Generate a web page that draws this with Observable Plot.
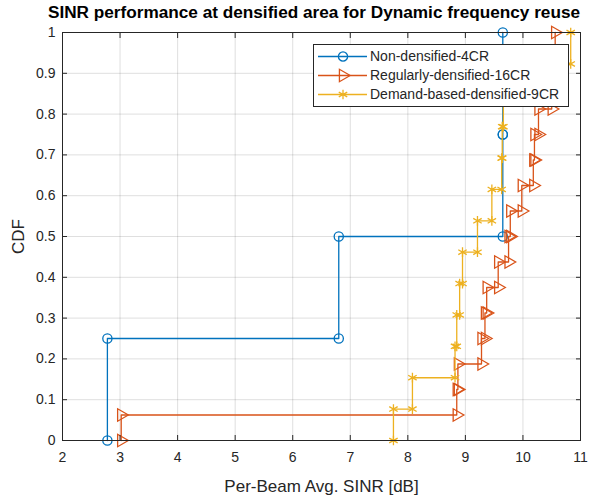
<!DOCTYPE html>
<html>
<head>
<meta charset="utf-8">
<script src="https://cdn.jsdelivr.net/npm/d3@7"></script>
<script src="https://cdn.jsdelivr.net/npm/@observablehq/plot@0.6"></script>
<style>
  html, body { margin: 0; padding: 0; background: #fff; }
  #wrap { position: relative; width: 596px; height: 496px; overflow: hidden; font-family: "Liberation Sans", Arial, sans-serif; color: #262626; }
  #title { position: absolute; left: 32px; top: 1px; width: 564px; height: 22px; line-height: 22px; text-align: center; font-weight: bold; font-size: 17.2px; color: #000; white-space: nowrap; }
  #chart { position: absolute; left: 0; top: 22px; }
  #legend { position: absolute; left: 313px; top: 44px; }
  #chart g[aria-label="x-axis label"] text, #chart g[aria-label="y-axis label"] text { font-size: 17px; }
  #chart g[aria-label="x-axis label"], #chart g[aria-label="y-axis label"] { font-size: 17px; }
</style>
</head>
<body>
<div id="wrap">
  <div id="title">SINR performance at densified area for Dynamic frequency reuse</div>
  <div id="chart"></div>
  <div id="legend"></div>
</div>
<script>
// ---- data (sorted per-beam SINR samples, dB) ----
const seriesNames = ["Non-densified-4CR", "Regularly-densified-16CR", "Demand-based-densified-9CR"];
const seriesColors = ["#0072BD", "#D95319", "#EDB120"];
const nonDensified = [2.78, 6.80, 9.65, 9.65];
const regularlyDensified = [3.02, 8.85, 8.87, 9.28, 9.34, 9.37, 9.57, 9.75, 9.78, 9.98, 10.18, 10.20, 10.27, 10.50, 10.53, 10.56];
const demandBased = [7.75, 8.08, 8.82, 8.85, 8.90, 8.95, 9.21, 9.46, 9.63, 9.64, 9.66, 9.68, 10.83];
const xTicks = [2, 3, 4, 5, 6, 7, 8, 9, 10, 11];
const yTicks = [0, 0.1, 0.2, 0.3, 0.4, 0.5, 0.6, 0.7, 0.8, 0.9, 1];
const xLabel = "Per-Beam Avg. SINR [dB]";
const yLabel = "CDF";

// empirical CDF stair vertices
function stairs(values, name) {
  const n = values.length, out = [];
  values.forEach((v, i) => {
    out.push({x: v, y: i / n, s: name});
    out.push({x: v, y: (i + 1) / n, s: name});
  });
  return out;
}
const dBlue = stairs(nonDensified, seriesNames[0]);
const dOrange = stairs(regularlyDensified, seriesNames[1]);
const dYellow = stairs(demandBased, seriesNames[2]);

const axisColor = "#262626";
const lw = 1.3;
const symbols = ["circle", "triangle", "asterisk"];
const rotations = [0, 90, 0];
const radii = [4.6, 4.6, 4.6];

function seriesMarks(data, i) {
  return [
    Plot.line(data, {x: "x", y: "y", stroke: seriesColors[i], strokeWidth: lw}),
    Plot.dot(data, {x: "x", y: "y", symbol: symbols[i], r: radii[i], rotate: rotations[i],
      stroke: seriesColors[i], fill: "none", strokeWidth: lw})
  ];
}

const fmt = d3.format("~g");

const plot = Plot.plot({
  width: 596,
  height: 474,
  marginTop: 10,
  marginBottom: 56,
  marginLeft: 62,
  marginRight: 16,
  style: {fontFamily: "'Liberation Sans', Arial, sans-serif", fontSize: "14px", color: axisColor, background: "white", overflow: "visible"},
  x: {domain: [2, 11]},
  y: {domain: [0, 1]},
  marks: [
    Plot.gridX(xTicks, {stroke: axisColor, strokeOpacity: 0.15}),
    Plot.gridY(yTicks, {stroke: axisColor, strokeOpacity: 0.15}),
    ...seriesMarks(dBlue, 0),
    ...seriesMarks(dOrange, 1),
    ...seriesMarks(dYellow, 2),
    Plot.frame({stroke: axisColor, strokeWidth: 1}),
    Plot.axisX(xTicks, {anchor: "bottom", tickSize: -5, tickPadding: 17, tickFormat: fmt,
      label: xLabel, labelAnchor: "center", labelArrow: "none", labelOffset: 51, fontSize: 14}),
    Plot.axisX(xTicks, {anchor: "top", tickSize: -5, fill: "none", label: null}),
    Plot.axisY(yTicks, {anchor: "left", tickSize: -5, tickPadding: 12, tickFormat: fmt,
      label: yLabel, labelAnchor: "center", labelArrow: "none", labelOffset: 51, fontSize: 14}),
    Plot.axisY(yTicks, {anchor: "right", tickSize: -5, fill: "none", label: null})
  ]
});
document.getElementById("chart").appendChild(plot);

// ---- legend ----
const lg = d3.select("#legend").append("svg")
  .attr("width", 256).attr("height", 63)
  .style("display", "block")
  .style("font-family", "'Liberation Sans', Arial, sans-serif");
lg.append("rect").attr("x", 0.5).attr("y", 0.5).attr("width", 255).attr("height", 62)
  .attr("fill", "white").attr("stroke", axisColor).attr("stroke-width", 1);
const d3sym = [d3.symbolCircle, d3.symbolTriangle, d3.symbolAsterisk];
seriesNames.forEach((name, i) => {
  const cy = 12.5 + i * 19;
  const g = lg.append("g");
  g.append("line").attr("x1", 5).attr("x2", 54).attr("y1", cy).attr("y2", cy)
    .attr("stroke", seriesColors[i]).attr("stroke-width", lw);
  g.append("path").attr("d", d3.symbol(d3sym[i], Math.PI * radii[i] * radii[i])())
    .attr("transform", `translate(30,${cy}) rotate(${rotations[i]})`)
    .attr("fill", "none").attr("stroke", seriesColors[i]).attr("stroke-width", lw);
  g.append("text").attr("x", 57).attr("y", cy).attr("dy", "0.35em")
    .attr("font-size", 14).attr("fill", axisColor).text(name);
});
</script>
</body>
</html>
